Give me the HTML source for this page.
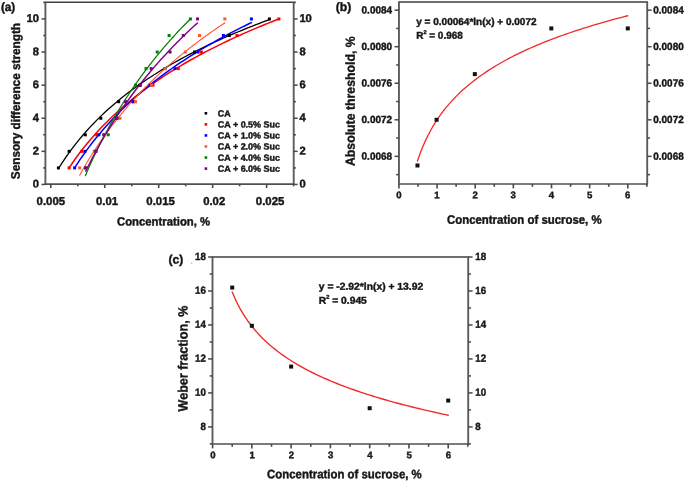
<!DOCTYPE html>
<html><head><meta charset="utf-8"><title>Figure</title>
<style>
html,body{margin:0;padding:0;background:#fff;}
body{width:685px;height:481px;overflow:hidden;font-family:"Liberation Sans",sans-serif;}
svg{display:block;filter:blur(0.6px);}
svg text{font-family:"Liberation Sans",sans-serif;font-weight:bold;fill:#161616;stroke:#161616;stroke-width:0.42px;}
</style></head><body>
<svg width="685" height="481" viewBox="0 0 685 481">
<rect width="685" height="481" fill="#ffffff"/>
<g id="pa">
<path d="M58.40,168.73 L61.92,163.16 L65.43,157.88 L68.95,152.87 L72.47,148.10 L75.98,143.55 L79.50,139.19 L83.02,135.01 L86.53,131.00 L90.05,127.15 L93.57,123.44 L97.08,119.86 L100.60,116.40 L104.12,113.06 L107.63,109.83 L111.15,106.70 L114.67,103.66 L118.18,100.71 L121.70,97.85 L125.22,95.07 L128.73,92.36 L132.25,89.72 L135.77,87.15 L139.28,84.65 L142.80,82.20 L146.32,79.82 L149.83,77.48 L153.35,75.21 L156.87,72.98 L160.38,70.80 L163.90,68.67 L167.42,66.58 L170.93,64.54 L174.45,62.53 L177.97,60.57 L181.48,58.64 L185.00,56.75 L188.52,54.89 L192.03,53.07 L195.55,51.28 L199.07,49.52 L202.58,47.80 L206.10,46.10 L209.62,44.43 L213.13,42.78 L216.65,41.17 L220.17,39.58 L223.68,38.01 L227.20,36.47 L230.72,34.95 L234.23,33.46 L237.75,31.98 L241.27,30.53 L244.78,29.10 L248.30,27.69 L251.82,26.30 L255.33,24.92 L258.85,23.57 L262.37,22.23 L265.88,20.91 L269.40,19.61" fill="none" stroke="#000000" stroke-width="1.3" stroke-linejoin="round" stroke-linecap="round"/>
<path d="M69.10,167.90 L72.60,162.73 L76.09,157.80 L79.59,153.07 L83.09,148.55 L86.58,144.20 L90.08,140.02 L93.58,135.99 L97.07,132.11 L100.57,128.36 L104.07,124.73 L107.56,121.22 L111.06,117.82 L114.56,114.52 L118.05,111.32 L121.55,108.21 L125.05,105.19 L128.54,102.24 L132.04,99.38 L135.54,96.58 L139.03,93.86 L142.53,91.20 L146.03,88.61 L149.52,86.08 L153.02,83.60 L156.52,81.18 L160.01,78.81 L163.51,76.49 L167.01,74.22 L170.50,71.99 L174.00,69.81 L177.50,67.68 L180.99,65.58 L184.49,63.52 L187.99,61.50 L191.48,59.52 L194.98,57.57 L198.48,55.66 L201.97,53.78 L205.47,51.93 L208.97,50.11 L212.46,48.33 L215.96,46.57 L219.46,44.83 L222.95,43.13 L226.45,41.45 L229.95,39.80 L233.44,38.17 L236.94,36.57 L240.44,34.98 L243.93,33.43 L247.43,31.89 L250.93,30.37 L254.42,28.88 L257.92,27.40 L261.42,25.95 L264.91,24.51 L268.41,23.10 L271.91,21.70 L275.40,20.31 L278.90,18.95" fill="none" stroke="#ff0000" stroke-width="1.5" stroke-linejoin="round" stroke-linecap="round"/>
<path d="M74.60,167.90 L77.55,163.34 L80.49,158.95 L83.44,154.71 L86.39,150.61 L89.33,146.64 L92.28,142.80 L95.23,139.07 L98.17,135.45 L101.12,131.94 L104.07,128.53 L107.01,125.21 L109.96,121.97 L112.91,118.82 L115.85,115.75 L118.80,112.75 L121.75,109.83 L124.69,106.97 L127.64,104.18 L130.59,101.45 L133.53,98.78 L136.48,96.16 L139.43,93.61 L142.37,91.10 L145.32,88.64 L148.27,86.24 L151.21,83.87 L154.16,81.56 L157.11,79.28 L160.05,77.05 L163.00,74.86 L165.95,72.71 L168.89,70.59 L171.84,68.51 L174.79,66.46 L177.73,64.45 L180.68,62.47 L183.63,60.52 L186.57,58.60 L189.52,56.72 L192.47,54.86 L195.41,53.02 L198.36,51.22 L201.31,49.44 L204.25,47.69 L207.20,45.96 L210.15,44.25 L213.09,42.57 L216.04,40.91 L218.99,39.28 L221.93,37.66 L224.88,36.07 L227.83,34.50 L230.77,32.94 L233.72,31.41 L236.67,29.90 L239.61,28.40 L242.56,26.92 L245.51,25.46 L248.45,24.02 L251.40,22.59" fill="none" stroke="#0000ff" stroke-width="1.5" stroke-linejoin="round" stroke-linecap="round"/>
<path d="M79.70,175.18 L82.12,170.85 L84.54,166.65 L86.95,162.55 L89.37,158.57 L91.79,154.69 L94.21,150.90 L96.63,147.21 L99.05,143.61 L101.47,140.09 L103.88,136.65 L106.30,133.29 L108.72,130.00 L111.14,126.79 L113.56,123.64 L115.98,120.55 L118.39,117.53 L120.81,114.56 L123.23,111.66 L125.65,108.81 L128.07,106.01 L130.49,103.26 L132.90,100.56 L135.32,97.91 L137.74,95.31 L140.16,92.75 L142.58,90.23 L145.00,87.75 L147.41,85.32 L149.83,82.92 L152.25,80.56 L154.67,78.24 L157.09,75.95 L159.51,73.69 L161.92,71.47 L164.34,69.29 L166.76,67.13 L169.18,65.00 L171.60,62.91 L174.02,60.84 L176.43,58.80 L178.85,56.79 L181.27,54.80 L183.69,52.84 L186.11,50.91 L188.53,49.00 L190.94,47.11 L193.36,45.25 L195.78,43.41 L198.20,41.59 L200.62,39.79 L203.04,38.02 L205.45,36.26 L207.87,34.53 L210.29,32.82 L212.71,31.12 L215.13,29.45 L217.55,27.79 L219.96,26.15 L222.38,24.53 L224.80,22.92" fill="none" stroke="#ff5533" stroke-width="1.1" stroke-linejoin="round" stroke-linecap="round"/>
<path d="M85.40,175.68 L87.15,171.59 L88.90,167.60 L90.65,163.68 L92.40,159.85 L94.15,156.09 L95.90,152.41 L97.65,148.79 L99.40,145.25 L101.15,141.77 L102.90,138.36 L104.65,135.01 L106.40,131.71 L108.15,128.48 L109.90,125.30 L111.65,122.17 L113.40,119.10 L115.15,116.08 L116.90,113.11 L118.65,110.18 L120.40,107.30 L122.15,104.47 L123.90,101.68 L125.65,98.93 L127.40,96.22 L129.15,93.55 L130.90,90.92 L132.65,88.33 L134.40,85.78 L136.15,83.26 L137.90,80.77 L139.65,78.33 L141.40,75.91 L143.15,73.52 L144.90,71.17 L146.65,68.85 L148.40,66.56 L150.15,64.29 L151.90,62.06 L153.65,59.85 L155.40,57.67 L157.15,55.52 L158.90,53.39 L160.65,51.29 L162.40,49.21 L164.15,47.16 L165.90,45.13 L167.65,43.12 L169.40,41.14 L171.15,39.18 L172.90,37.24 L174.65,35.32 L176.40,33.42 L178.15,31.55 L179.90,29.69 L181.65,27.85 L183.40,26.04 L185.15,24.24 L186.90,22.46 L188.65,20.69 L190.40,18.95" fill="none" stroke="#008000" stroke-width="1.25" stroke-linejoin="round" stroke-linecap="round"/>
<path d="M85.70,171.21 L87.56,167.43 L89.43,163.73 L91.29,160.10 L93.15,156.55 L95.02,153.06 L96.88,149.64 L98.74,146.28 L100.61,142.98 L102.47,139.74 L104.33,136.55 L106.20,133.42 L108.06,130.35 L109.92,127.32 L111.79,124.35 L113.65,121.42 L115.51,118.54 L117.38,115.70 L119.24,112.91 L121.10,110.16 L122.97,107.45 L124.83,104.78 L126.69,102.15 L128.56,99.56 L130.42,97.00 L132.28,94.48 L134.15,91.99 L136.01,89.54 L137.87,87.11 L139.74,84.72 L141.60,82.37 L143.46,80.04 L145.33,77.74 L147.19,75.47 L149.05,73.23 L150.92,71.01 L152.78,68.82 L154.64,66.66 L156.51,64.52 L158.37,62.41 L160.23,60.32 L162.10,58.26 L163.96,56.22 L165.82,54.20 L167.69,52.20 L169.55,50.23 L171.41,48.27 L173.28,46.34 L175.14,44.43 L177.00,42.54 L178.87,40.66 L180.73,38.81 L182.59,36.97 L184.46,35.16 L186.32,33.36 L188.18,31.58 L190.05,29.81 L191.91,28.07 L193.77,26.33 L195.64,24.62 L197.50,22.92" fill="none" stroke="#800080" stroke-width="1.4" stroke-linejoin="round" stroke-linecap="round"/>
<rect x="56.90" y="166.40" width="3.0" height="3.0" fill="#000000"/>
<rect x="67.60" y="149.85" width="3.0" height="3.0" fill="#000000"/>
<rect x="83.80" y="133.30" width="3.0" height="3.0" fill="#000000"/>
<rect x="99.30" y="116.75" width="3.0" height="3.0" fill="#000000"/>
<rect x="117.20" y="100.20" width="3.0" height="3.0" fill="#000000"/>
<rect x="138.50" y="83.65" width="3.0" height="3.0" fill="#000000"/>
<rect x="163.40" y="67.10" width="3.0" height="3.0" fill="#000000"/>
<rect x="193.00" y="50.55" width="3.0" height="3.0" fill="#000000"/>
<rect x="227.80" y="34.00" width="3.0" height="3.0" fill="#000000"/>
<rect x="267.90" y="17.45" width="3.0" height="3.0" fill="#000000"/>
<rect x="67.60" y="166.40" width="3.0" height="3.0" fill="#ff0000"/>
<rect x="80.20" y="149.85" width="3.0" height="3.0" fill="#ff0000"/>
<rect x="95.20" y="133.30" width="3.0" height="3.0" fill="#ff0000"/>
<rect x="115.00" y="116.75" width="3.0" height="3.0" fill="#ff0000"/>
<rect x="132.00" y="100.20" width="3.0" height="3.0" fill="#ff0000"/>
<rect x="151.50" y="83.65" width="3.0" height="3.0" fill="#ff0000"/>
<rect x="176.80" y="67.10" width="3.0" height="3.0" fill="#ff0000"/>
<rect x="199.90" y="50.55" width="3.0" height="3.0" fill="#ff0000"/>
<rect x="235.50" y="34.00" width="3.0" height="3.0" fill="#ff0000"/>
<rect x="277.40" y="17.45" width="3.0" height="3.0" fill="#ff0000"/>
<rect x="73.10" y="166.40" width="3.0" height="3.0" fill="#0000ff"/>
<rect x="83.40" y="149.85" width="3.0" height="3.0" fill="#0000ff"/>
<rect x="97.40" y="133.30" width="3.0" height="3.0" fill="#0000ff"/>
<rect x="115.50" y="116.75" width="3.0" height="3.0" fill="#0000ff"/>
<rect x="131.50" y="100.20" width="3.0" height="3.0" fill="#0000ff"/>
<rect x="148.60" y="83.65" width="3.0" height="3.0" fill="#0000ff"/>
<rect x="173.50" y="67.10" width="3.0" height="3.0" fill="#0000ff"/>
<rect x="196.60" y="50.55" width="3.0" height="3.0" fill="#0000ff"/>
<rect x="221.90" y="34.00" width="3.0" height="3.0" fill="#0000ff"/>
<rect x="249.90" y="17.45" width="3.0" height="3.0" fill="#0000ff"/>
<rect x="78.20" y="166.40" width="3.0" height="3.0" fill="#ff5533"/>
<rect x="92.80" y="149.85" width="3.0" height="3.0" fill="#ff5533"/>
<rect x="102.50" y="133.30" width="3.0" height="3.0" fill="#ff5533"/>
<rect x="118.50" y="116.75" width="3.0" height="3.0" fill="#ff5533"/>
<rect x="134.00" y="100.20" width="3.0" height="3.0" fill="#ff5533"/>
<rect x="150.00" y="83.65" width="3.0" height="3.0" fill="#ff5533"/>
<rect x="163.30" y="67.10" width="3.0" height="3.0" fill="#ff5533"/>
<rect x="183.80" y="50.55" width="3.0" height="3.0" fill="#ff5533"/>
<rect x="198.00" y="34.00" width="3.0" height="3.0" fill="#ff5533"/>
<rect x="223.30" y="17.45" width="3.0" height="3.0" fill="#ff5533"/>
<rect x="83.90" y="166.40" width="3.0" height="3.0" fill="#008000"/>
<rect x="94.30" y="149.85" width="3.0" height="3.0" fill="#008000"/>
<rect x="106.70" y="133.30" width="3.0" height="3.0" fill="#008000"/>
<rect x="115.30" y="116.75" width="3.0" height="3.0" fill="#008000"/>
<rect x="124.30" y="100.20" width="3.0" height="3.0" fill="#008000"/>
<rect x="134.10" y="83.65" width="3.0" height="3.0" fill="#008000"/>
<rect x="144.50" y="67.10" width="3.0" height="3.0" fill="#008000"/>
<rect x="155.70" y="50.55" width="3.0" height="3.0" fill="#008000"/>
<rect x="167.60" y="34.00" width="3.0" height="3.0" fill="#008000"/>
<rect x="188.90" y="17.45" width="3.0" height="3.0" fill="#008000"/>
<rect x="84.20" y="166.40" width="3.0" height="3.0" fill="#800080"/>
<rect x="94.40" y="149.85" width="3.0" height="3.0" fill="#800080"/>
<rect x="102.30" y="133.30" width="3.0" height="3.0" fill="#800080"/>
<rect x="115.10" y="116.75" width="3.0" height="3.0" fill="#800080"/>
<rect x="124.20" y="100.20" width="3.0" height="3.0" fill="#800080"/>
<rect x="138.80" y="83.65" width="3.0" height="3.0" fill="#800080"/>
<rect x="149.70" y="67.10" width="3.0" height="3.0" fill="#800080"/>
<rect x="168.60" y="50.55" width="3.0" height="3.0" fill="#800080"/>
<rect x="181.80" y="34.00" width="3.0" height="3.0" fill="#800080"/>
<rect x="196.00" y="17.45" width="3.0" height="3.0" fill="#800080"/>
<line x1="44.60" y1="2.30" x2="294.50" y2="2.30" stroke="#3e3e3e" stroke-width="1.6"/>
<line x1="44.60" y1="184.10" x2="294.50" y2="184.10" stroke="#505050" stroke-width="1.6"/>
<line x1="45.40" y1="2.30" x2="45.40" y2="184.10" stroke="#5c5c5c" stroke-width="1.9"/>
<line x1="293.70" y1="2.30" x2="293.70" y2="184.10" stroke="#5c5c5c" stroke-width="1.9"/>
<line x1="41.50" y1="184.45" x2="45.40" y2="184.45" stroke="#484848" stroke-width="1.5"/>
<line x1="293.70" y1="184.45" x2="297.60" y2="184.45" stroke="#484848" stroke-width="1.5"/>
<text x="39.00" y="187.60" font-size="11.2" text-anchor="end" transform="rotate(0.03 39.00 187.60)" textLength="6.23" lengthAdjust="spacingAndGlyphs">0</text>
<text x="299.40" y="187.55" font-size="11.2" text-anchor="start" transform="rotate(0.03 299.40 187.55)" textLength="6.23" lengthAdjust="spacingAndGlyphs">0</text>
<line x1="43.20" y1="167.90" x2="45.40" y2="167.90" stroke="#484848" stroke-width="1.5"/>
<line x1="293.70" y1="167.90" x2="295.90" y2="167.90" stroke="#484848" stroke-width="1.5"/>
<line x1="41.50" y1="151.35" x2="45.40" y2="151.35" stroke="#484848" stroke-width="1.5"/>
<line x1="293.70" y1="151.35" x2="297.60" y2="151.35" stroke="#484848" stroke-width="1.5"/>
<text x="39.00" y="154.50" font-size="11.2" text-anchor="end" transform="rotate(0.03 39.00 154.50)" textLength="6.23" lengthAdjust="spacingAndGlyphs">2</text>
<text x="299.40" y="154.45" font-size="11.2" text-anchor="start" transform="rotate(0.03 299.40 154.45)" textLength="6.23" lengthAdjust="spacingAndGlyphs">2</text>
<line x1="43.20" y1="134.80" x2="45.40" y2="134.80" stroke="#484848" stroke-width="1.5"/>
<line x1="293.70" y1="134.80" x2="295.90" y2="134.80" stroke="#484848" stroke-width="1.5"/>
<line x1="41.50" y1="118.25" x2="45.40" y2="118.25" stroke="#484848" stroke-width="1.5"/>
<line x1="293.70" y1="118.25" x2="297.60" y2="118.25" stroke="#484848" stroke-width="1.5"/>
<text x="39.00" y="121.40" font-size="11.2" text-anchor="end" transform="rotate(0.03 39.00 121.40)" textLength="6.23" lengthAdjust="spacingAndGlyphs">4</text>
<text x="299.40" y="121.35" font-size="11.2" text-anchor="start" transform="rotate(0.03 299.40 121.35)" textLength="6.23" lengthAdjust="spacingAndGlyphs">4</text>
<line x1="43.20" y1="101.70" x2="45.40" y2="101.70" stroke="#484848" stroke-width="1.5"/>
<line x1="293.70" y1="101.70" x2="295.90" y2="101.70" stroke="#484848" stroke-width="1.5"/>
<line x1="41.50" y1="85.15" x2="45.40" y2="85.15" stroke="#484848" stroke-width="1.5"/>
<line x1="293.70" y1="85.15" x2="297.60" y2="85.15" stroke="#484848" stroke-width="1.5"/>
<text x="39.00" y="88.30" font-size="11.2" text-anchor="end" transform="rotate(0.03 39.00 88.30)" textLength="6.23" lengthAdjust="spacingAndGlyphs">6</text>
<text x="299.40" y="88.25" font-size="11.2" text-anchor="start" transform="rotate(0.03 299.40 88.25)" textLength="6.23" lengthAdjust="spacingAndGlyphs">6</text>
<line x1="43.20" y1="68.60" x2="45.40" y2="68.60" stroke="#484848" stroke-width="1.5"/>
<line x1="293.70" y1="68.60" x2="295.90" y2="68.60" stroke="#484848" stroke-width="1.5"/>
<line x1="41.50" y1="52.05" x2="45.40" y2="52.05" stroke="#484848" stroke-width="1.5"/>
<line x1="293.70" y1="52.05" x2="297.60" y2="52.05" stroke="#484848" stroke-width="1.5"/>
<text x="39.00" y="55.20" font-size="11.2" text-anchor="end" transform="rotate(0.03 39.00 55.20)" textLength="6.23" lengthAdjust="spacingAndGlyphs">8</text>
<text x="299.40" y="55.15" font-size="11.2" text-anchor="start" transform="rotate(0.03 299.40 55.15)" textLength="6.23" lengthAdjust="spacingAndGlyphs">8</text>
<line x1="43.20" y1="35.50" x2="45.40" y2="35.50" stroke="#484848" stroke-width="1.5"/>
<line x1="293.70" y1="35.50" x2="295.90" y2="35.50" stroke="#484848" stroke-width="1.5"/>
<line x1="41.50" y1="18.95" x2="45.40" y2="18.95" stroke="#484848" stroke-width="1.5"/>
<line x1="293.70" y1="18.95" x2="297.60" y2="18.95" stroke="#484848" stroke-width="1.5"/>
<text x="39.00" y="22.10" font-size="11.2" text-anchor="end" transform="rotate(0.03 39.00 22.10)" textLength="12.46" lengthAdjust="spacingAndGlyphs">10</text>
<text x="299.40" y="22.05" font-size="11.2" text-anchor="start" transform="rotate(0.03 299.40 22.05)" textLength="12.46" lengthAdjust="spacingAndGlyphs">10</text>
<line x1="43.20" y1="2.40" x2="45.40" y2="2.40" stroke="#484848" stroke-width="1.5"/>
<line x1="293.70" y1="2.40" x2="295.90" y2="2.40" stroke="#484848" stroke-width="1.5"/>
<line x1="50.80" y1="184.10" x2="50.80" y2="188.00" stroke="#484848" stroke-width="1.6"/>
<line x1="77.77" y1="184.10" x2="77.77" y2="186.30" stroke="#484848" stroke-width="1.6"/>
<line x1="104.75" y1="184.10" x2="104.75" y2="188.00" stroke="#484848" stroke-width="1.6"/>
<line x1="131.73" y1="184.10" x2="131.73" y2="186.30" stroke="#484848" stroke-width="1.6"/>
<line x1="158.70" y1="184.10" x2="158.70" y2="188.00" stroke="#484848" stroke-width="1.6"/>
<line x1="185.68" y1="184.10" x2="185.68" y2="186.30" stroke="#484848" stroke-width="1.6"/>
<line x1="212.65" y1="184.10" x2="212.65" y2="188.00" stroke="#484848" stroke-width="1.6"/>
<line x1="239.63" y1="184.10" x2="239.63" y2="186.30" stroke="#484848" stroke-width="1.6"/>
<line x1="266.60" y1="184.10" x2="266.60" y2="188.00" stroke="#484848" stroke-width="1.6"/>
<line x1="293.57" y1="184.10" x2="293.57" y2="186.30" stroke="#484848" stroke-width="1.6"/>
<text x="50.90" y="204.90" font-size="11.5" text-anchor="middle" transform="rotate(0.03 50.90 204.90)" textLength="28.60" lengthAdjust="spacingAndGlyphs">0.005</text>
<text x="107.00" y="204.90" font-size="11.5" text-anchor="middle" transform="rotate(0.03 107.00 204.90)" textLength="22.00" lengthAdjust="spacingAndGlyphs">0.01</text>
<text x="160.60" y="204.90" font-size="11.5" text-anchor="middle" transform="rotate(0.03 160.60 204.90)" textLength="28.60" lengthAdjust="spacingAndGlyphs">0.015</text>
<text x="214.20" y="204.90" font-size="11.5" text-anchor="middle" transform="rotate(0.03 214.20 204.90)" textLength="22.00" lengthAdjust="spacingAndGlyphs">0.02</text>
<text x="270.10" y="204.90" font-size="11.5" text-anchor="middle" transform="rotate(0.03 270.10 204.90)" textLength="28.60" lengthAdjust="spacingAndGlyphs">0.025</text>
<text x="163.55" y="225.50" font-size="11.9" text-anchor="middle" transform="rotate(0.03 163.55 225.50)" textLength="93.00" lengthAdjust="spacingAndGlyphs">Concentration, %</text>
<text x="19.90" y="101.10" font-size="12.4" text-anchor="middle" transform="rotate(-89.97 19.90 101.10)" textLength="156.20" lengthAdjust="spacingAndGlyphs">Sensory difference strength</text>
<text x="0.90" y="11.10" font-size="12" text-anchor="start" transform="rotate(0.03 0.90 11.10)" textLength="14.40" lengthAdjust="spacingAndGlyphs">(a)</text>
<rect x="204.60" y="112.00" width="2.6" height="2.6" fill="#000000"/>
<text x="217.80" y="116.40" font-size="8.9" text-anchor="start" transform="rotate(0.03 217.80 116.40)" textLength="12.80" lengthAdjust="spacingAndGlyphs">CA</text>
<rect x="204.60" y="123.06" width="2.6" height="2.6" fill="#ff0000"/>
<text x="217.80" y="127.46" font-size="8.9" text-anchor="start" transform="rotate(0.03 217.80 127.46)" textLength="62.20" lengthAdjust="spacingAndGlyphs">CA + 0.5% Suc</text>
<rect x="204.60" y="134.12" width="2.6" height="2.6" fill="#0000ff"/>
<text x="217.80" y="138.52" font-size="8.9" text-anchor="start" transform="rotate(0.03 217.80 138.52)" textLength="62.20" lengthAdjust="spacingAndGlyphs">CA + 1.0% Suc</text>
<rect x="204.60" y="145.18" width="2.6" height="2.6" fill="#ff5533"/>
<text x="217.80" y="149.58" font-size="8.9" text-anchor="start" transform="rotate(0.03 217.80 149.58)" textLength="62.20" lengthAdjust="spacingAndGlyphs">CA + 2.0% Suc</text>
<rect x="204.60" y="156.24" width="2.6" height="2.6" fill="#008000"/>
<text x="217.80" y="160.64" font-size="8.9" text-anchor="start" transform="rotate(0.03 217.80 160.64)" textLength="62.20" lengthAdjust="spacingAndGlyphs">CA + 4.0% Suc</text>
<rect x="204.60" y="167.30" width="2.6" height="2.6" fill="#800080"/>
<text x="217.80" y="171.70" font-size="8.9" text-anchor="start" transform="rotate(0.03 217.80 171.70)" textLength="62.20" lengthAdjust="spacingAndGlyphs">CA + 6.0% Suc</text>
</g>
<g id="pb">
<path d="M417.47,161.07 L420.10,153.53 L422.73,146.86 L425.36,140.87 L427.99,135.44 L430.62,130.47 L433.24,125.89 L435.87,121.64 L438.50,117.68 L441.13,113.97 L443.76,110.48 L446.39,107.19 L449.02,104.07 L451.65,101.12 L454.28,98.30 L456.91,95.61 L459.53,93.05 L462.16,90.58 L464.79,88.22 L467.42,85.95 L470.05,83.77 L472.68,81.66 L475.31,79.63 L477.94,77.67 L480.57,75.77 L483.20,73.93 L485.82,72.14 L488.45,70.41 L491.08,68.73 L493.71,67.09 L496.34,65.50 L498.97,63.95 L501.60,62.45 L504.23,60.98 L506.86,59.54 L509.49,58.14 L512.11,56.77 L514.74,55.44 L517.37,54.13 L520.00,52.85 L522.63,51.60 L525.26,50.38 L527.89,49.18 L530.52,48.01 L533.15,46.85 L535.78,45.72 L538.40,44.62 L541.03,43.53 L543.66,42.46 L546.29,41.41 L548.92,40.38 L551.55,39.37 L554.18,38.37 L556.81,37.40 L559.44,36.43 L562.07,35.49 L564.69,34.56 L567.32,33.64 L569.95,32.74 L572.58,31.85 L575.21,30.97 L577.84,30.11 L580.47,29.26 L583.10,28.42 L585.73,27.59 L588.36,26.78 L590.98,25.97 L593.61,25.18 L596.24,24.40 L598.87,23.63 L601.50,22.87 L604.13,22.11 L606.76,21.37 L609.39,20.64 L612.02,19.91 L614.64,19.20 L617.27,18.49 L619.90,17.79 L622.53,17.10 L625.16,16.42 L627.79,15.75" fill="none" stroke="#f22a2a" stroke-width="1.3" stroke-linejoin="round" stroke-linecap="round"/>
<rect x="415.47" y="163.49" width="4.0" height="4.0" fill="#111"/>
<rect x="434.59" y="117.80" width="4.0" height="4.0" fill="#111"/>
<rect x="472.83" y="72.11" width="4.0" height="4.0" fill="#111"/>
<rect x="549.31" y="26.42" width="4.0" height="4.0" fill="#111"/>
<rect x="625.79" y="26.42" width="4.0" height="4.0" fill="#111"/>
<line x1="398.15" y1="2.00" x2="648.00" y2="2.00" stroke="#3e3e3e" stroke-width="1.6"/>
<line x1="398.15" y1="184.00" x2="648.00" y2="184.00" stroke="#505050" stroke-width="1.6"/>
<line x1="398.95" y1="2.00" x2="398.95" y2="184.00" stroke="#5c5c5c" stroke-width="1.9"/>
<line x1="647.20" y1="2.00" x2="647.20" y2="184.00" stroke="#5c5c5c" stroke-width="1.9"/>
<line x1="396.15" y1="174.62" x2="398.95" y2="174.62" stroke="#484848" stroke-width="1.5"/>
<line x1="647.20" y1="174.62" x2="650.00" y2="174.62" stroke="#484848" stroke-width="1.5"/>
<line x1="394.55" y1="156.35" x2="398.95" y2="156.35" stroke="#484848" stroke-width="1.5"/>
<line x1="647.20" y1="156.35" x2="651.60" y2="156.35" stroke="#484848" stroke-width="1.5"/>
<text x="392.00" y="159.65" font-size="10.3" text-anchor="end" transform="rotate(0.03 392.00 159.65)" textLength="30.40" lengthAdjust="spacingAndGlyphs">0.0068</text>
<text x="653.30" y="159.65" font-size="10.3" text-anchor="start" transform="rotate(0.03 653.30 159.65)" textLength="30.40" lengthAdjust="spacingAndGlyphs">0.0068</text>
<line x1="396.15" y1="138.07" x2="398.95" y2="138.07" stroke="#484848" stroke-width="1.5"/>
<line x1="647.20" y1="138.07" x2="650.00" y2="138.07" stroke="#484848" stroke-width="1.5"/>
<line x1="394.55" y1="119.80" x2="398.95" y2="119.80" stroke="#484848" stroke-width="1.5"/>
<line x1="647.20" y1="119.80" x2="651.60" y2="119.80" stroke="#484848" stroke-width="1.5"/>
<text x="392.00" y="123.10" font-size="10.3" text-anchor="end" transform="rotate(0.03 392.00 123.10)" textLength="30.40" lengthAdjust="spacingAndGlyphs">0.0072</text>
<text x="653.30" y="123.10" font-size="10.3" text-anchor="start" transform="rotate(0.03 653.30 123.10)" textLength="30.40" lengthAdjust="spacingAndGlyphs">0.0072</text>
<line x1="396.15" y1="101.52" x2="398.95" y2="101.52" stroke="#484848" stroke-width="1.5"/>
<line x1="647.20" y1="101.52" x2="650.00" y2="101.52" stroke="#484848" stroke-width="1.5"/>
<line x1="394.55" y1="83.25" x2="398.95" y2="83.25" stroke="#484848" stroke-width="1.5"/>
<line x1="647.20" y1="83.25" x2="651.60" y2="83.25" stroke="#484848" stroke-width="1.5"/>
<text x="392.00" y="86.55" font-size="10.3" text-anchor="end" transform="rotate(0.03 392.00 86.55)" textLength="30.40" lengthAdjust="spacingAndGlyphs">0.0076</text>
<text x="653.30" y="86.55" font-size="10.3" text-anchor="start" transform="rotate(0.03 653.30 86.55)" textLength="30.40" lengthAdjust="spacingAndGlyphs">0.0076</text>
<line x1="396.15" y1="64.97" x2="398.95" y2="64.97" stroke="#484848" stroke-width="1.5"/>
<line x1="647.20" y1="64.97" x2="650.00" y2="64.97" stroke="#484848" stroke-width="1.5"/>
<line x1="394.55" y1="46.70" x2="398.95" y2="46.70" stroke="#484848" stroke-width="1.5"/>
<line x1="647.20" y1="46.70" x2="651.60" y2="46.70" stroke="#484848" stroke-width="1.5"/>
<text x="392.00" y="50.00" font-size="10.3" text-anchor="end" transform="rotate(0.03 392.00 50.00)" textLength="30.40" lengthAdjust="spacingAndGlyphs">0.0080</text>
<text x="653.30" y="50.00" font-size="10.3" text-anchor="start" transform="rotate(0.03 653.30 50.00)" textLength="30.40" lengthAdjust="spacingAndGlyphs">0.0080</text>
<line x1="396.15" y1="28.42" x2="398.95" y2="28.42" stroke="#484848" stroke-width="1.5"/>
<line x1="647.20" y1="28.42" x2="650.00" y2="28.42" stroke="#484848" stroke-width="1.5"/>
<line x1="394.55" y1="10.15" x2="398.95" y2="10.15" stroke="#484848" stroke-width="1.5"/>
<line x1="647.20" y1="10.15" x2="651.60" y2="10.15" stroke="#484848" stroke-width="1.5"/>
<text x="392.00" y="13.45" font-size="10.3" text-anchor="end" transform="rotate(0.03 392.00 13.45)" textLength="30.40" lengthAdjust="spacingAndGlyphs">0.0084</text>
<text x="653.30" y="13.45" font-size="10.3" text-anchor="start" transform="rotate(0.03 653.30 13.45)" textLength="30.40" lengthAdjust="spacingAndGlyphs">0.0084</text>
<line x1="398.90" y1="184.00" x2="398.90" y2="188.40" stroke="#484848" stroke-width="1.6"/>
<text x="398.80" y="198.20" font-size="9.6" text-anchor="middle" transform="rotate(0.03 398.80 198.20)">0</text>
<line x1="417.97" y1="184.00" x2="417.97" y2="186.80" stroke="#484848" stroke-width="1.6"/>
<line x1="437.05" y1="184.00" x2="437.05" y2="188.40" stroke="#484848" stroke-width="1.6"/>
<text x="436.95" y="198.20" font-size="9.6" text-anchor="middle" transform="rotate(0.03 436.95 198.20)">1</text>
<line x1="456.12" y1="184.00" x2="456.12" y2="186.80" stroke="#484848" stroke-width="1.6"/>
<line x1="475.20" y1="184.00" x2="475.20" y2="188.40" stroke="#484848" stroke-width="1.6"/>
<text x="475.10" y="198.20" font-size="9.6" text-anchor="middle" transform="rotate(0.03 475.10 198.20)">2</text>
<line x1="494.27" y1="184.00" x2="494.27" y2="186.80" stroke="#484848" stroke-width="1.6"/>
<line x1="513.35" y1="184.00" x2="513.35" y2="188.40" stroke="#484848" stroke-width="1.6"/>
<text x="513.25" y="198.20" font-size="9.6" text-anchor="middle" transform="rotate(0.03 513.25 198.20)">3</text>
<line x1="532.42" y1="184.00" x2="532.42" y2="186.80" stroke="#484848" stroke-width="1.6"/>
<line x1="551.50" y1="184.00" x2="551.50" y2="188.40" stroke="#484848" stroke-width="1.6"/>
<text x="551.40" y="198.20" font-size="9.6" text-anchor="middle" transform="rotate(0.03 551.40 198.20)">4</text>
<line x1="570.57" y1="184.00" x2="570.57" y2="186.80" stroke="#484848" stroke-width="1.6"/>
<line x1="589.65" y1="184.00" x2="589.65" y2="188.40" stroke="#484848" stroke-width="1.6"/>
<text x="589.55" y="198.20" font-size="9.6" text-anchor="middle" transform="rotate(0.03 589.55 198.20)">5</text>
<line x1="608.72" y1="184.00" x2="608.72" y2="186.80" stroke="#484848" stroke-width="1.6"/>
<line x1="627.80" y1="184.00" x2="627.80" y2="188.40" stroke="#484848" stroke-width="1.6"/>
<text x="627.70" y="198.20" font-size="9.6" text-anchor="middle" transform="rotate(0.03 627.70 198.20)">6</text>
<line x1="646.88" y1="184.00" x2="646.88" y2="186.80" stroke="#484848" stroke-width="1.6"/>
<text x="524.30" y="223.70" font-size="12.2" text-anchor="middle" transform="rotate(0.03 524.30 223.70)" textLength="154.60" lengthAdjust="spacingAndGlyphs">Concentration of sucrose, %</text>
<text x="354.70" y="101.15" font-size="13.1" text-anchor="middle" transform="rotate(-89.97 354.70 101.15)" textLength="129.90" lengthAdjust="spacingAndGlyphs">Absolute threshold, %</text>
<text x="335.70" y="10.90" font-size="12" text-anchor="start" transform="rotate(0.03 335.70 10.90)" textLength="15.60" lengthAdjust="spacingAndGlyphs">(b)</text>
<text x="416.20" y="24.95" font-size="10" text-anchor="start" transform="rotate(0.03 416.20 24.95)" textLength="120.40" lengthAdjust="spacingAndGlyphs">y = 0.00064*ln(x) + 0.0072</text>
<text x="416.20" y="38.80" font-size="10" text-anchor="start" transform="rotate(0.03 416.20 38.80)" textLength="46.60" lengthAdjust="spacingAndGlyphs">R<tspan font-size="5.6" dy="-4.9">2</tspan><tspan dy="4.9"> = 0.968</tspan></text>
</g>
<g id="pc">
<path d="M232.23,291.93 L234.93,298.32 L237.63,303.98 L240.33,309.07 L243.03,313.67 L245.73,317.89 L248.43,321.78 L251.13,325.38 L253.83,328.74 L256.53,331.89 L259.23,334.84 L261.93,337.64 L264.63,340.28 L267.33,342.79 L270.03,345.18 L272.73,347.46 L275.43,349.64 L278.13,351.72 L280.83,353.73 L283.53,355.65 L286.23,357.50 L288.93,359.29 L291.63,361.02 L294.33,362.68 L297.03,364.29 L299.73,365.86 L302.43,367.37 L305.13,368.84 L307.83,370.27 L310.53,371.65 L313.23,373.00 L315.93,374.32 L318.63,375.60 L321.33,376.84 L324.03,378.06 L326.73,379.25 L329.43,380.41 L332.13,381.54 L334.83,382.65 L337.53,383.73 L340.23,384.79 L342.93,385.83 L345.63,386.85 L348.33,387.85 L351.03,388.82 L353.73,389.78 L356.43,390.72 L359.13,391.64 L361.83,392.55 L364.53,393.44 L367.23,394.31 L369.93,395.17 L372.63,396.02 L375.33,396.85 L378.02,397.66 L380.72,398.47 L383.42,399.26 L386.12,400.03 L388.82,400.80 L391.52,401.55 L394.22,402.30 L396.92,403.03 L399.62,403.75 L402.32,404.46 L405.02,405.16 L407.72,405.85 L410.42,406.54 L413.12,407.21 L415.82,407.87 L418.52,408.53 L421.22,409.17 L423.92,409.81 L426.62,410.44 L429.32,411.06 L432.02,411.68 L434.72,412.28 L437.42,412.88 L440.12,413.47 L442.82,414.06 L445.52,414.64 L448.22,415.21" fill="none" stroke="#f22a2a" stroke-width="1.4" stroke-linejoin="round" stroke-linecap="round"/>
<rect x="230.23" y="285.58" width="4.0" height="4.0" fill="#111"/>
<rect x="249.87" y="323.81" width="4.0" height="4.0" fill="#111"/>
<rect x="289.14" y="364.59" width="4.0" height="4.0" fill="#111"/>
<rect x="367.68" y="406.21" width="4.0" height="4.0" fill="#111"/>
<rect x="446.22" y="398.57" width="4.0" height="4.0" fill="#111"/>
<line x1="211.70" y1="257.00" x2="469.00" y2="257.00" stroke="#3e3e3e" stroke-width="1.6"/>
<line x1="211.70" y1="444.00" x2="469.00" y2="444.00" stroke="#505050" stroke-width="1.6"/>
<line x1="212.50" y1="257.00" x2="212.50" y2="444.00" stroke="#5c5c5c" stroke-width="1.9"/>
<line x1="468.20" y1="257.00" x2="468.20" y2="444.00" stroke="#5c5c5c" stroke-width="1.9"/>
<line x1="209.70" y1="443.89" x2="212.50" y2="443.89" stroke="#484848" stroke-width="1.5"/>
<line x1="468.20" y1="443.89" x2="471.00" y2="443.89" stroke="#484848" stroke-width="1.5"/>
<line x1="208.10" y1="426.90" x2="212.50" y2="426.90" stroke="#484848" stroke-width="1.5"/>
<line x1="468.20" y1="426.90" x2="472.60" y2="426.90" stroke="#484848" stroke-width="1.5"/>
<text x="205.80" y="429.80" font-size="10.4" text-anchor="end" transform="rotate(0.03 205.80 429.80)" textLength="5.39" lengthAdjust="spacingAndGlyphs">8</text>
<text x="475.30" y="429.80" font-size="10.4" text-anchor="start" transform="rotate(0.03 475.30 429.80)" textLength="5.39" lengthAdjust="spacingAndGlyphs">8</text>
<line x1="209.70" y1="409.91" x2="212.50" y2="409.91" stroke="#484848" stroke-width="1.5"/>
<line x1="468.20" y1="409.91" x2="471.00" y2="409.91" stroke="#484848" stroke-width="1.5"/>
<line x1="208.10" y1="392.92" x2="212.50" y2="392.92" stroke="#484848" stroke-width="1.5"/>
<line x1="468.20" y1="392.92" x2="472.60" y2="392.92" stroke="#484848" stroke-width="1.5"/>
<text x="205.80" y="395.82" font-size="10.4" text-anchor="end" transform="rotate(0.03 205.80 395.82)" textLength="10.79" lengthAdjust="spacingAndGlyphs">10</text>
<text x="475.30" y="395.82" font-size="10.4" text-anchor="start" transform="rotate(0.03 475.30 395.82)" textLength="10.79" lengthAdjust="spacingAndGlyphs">10</text>
<line x1="209.70" y1="375.93" x2="212.50" y2="375.93" stroke="#484848" stroke-width="1.5"/>
<line x1="468.20" y1="375.93" x2="471.00" y2="375.93" stroke="#484848" stroke-width="1.5"/>
<line x1="208.10" y1="358.94" x2="212.50" y2="358.94" stroke="#484848" stroke-width="1.5"/>
<line x1="468.20" y1="358.94" x2="472.60" y2="358.94" stroke="#484848" stroke-width="1.5"/>
<text x="205.80" y="361.84" font-size="10.4" text-anchor="end" transform="rotate(0.03 205.80 361.84)" textLength="10.79" lengthAdjust="spacingAndGlyphs">12</text>
<text x="475.30" y="361.84" font-size="10.4" text-anchor="start" transform="rotate(0.03 475.30 361.84)" textLength="10.79" lengthAdjust="spacingAndGlyphs">12</text>
<line x1="209.70" y1="341.95" x2="212.50" y2="341.95" stroke="#484848" stroke-width="1.5"/>
<line x1="468.20" y1="341.95" x2="471.00" y2="341.95" stroke="#484848" stroke-width="1.5"/>
<line x1="208.10" y1="324.96" x2="212.50" y2="324.96" stroke="#484848" stroke-width="1.5"/>
<line x1="468.20" y1="324.96" x2="472.60" y2="324.96" stroke="#484848" stroke-width="1.5"/>
<text x="205.80" y="327.86" font-size="10.4" text-anchor="end" transform="rotate(0.03 205.80 327.86)" textLength="10.79" lengthAdjust="spacingAndGlyphs">14</text>
<text x="475.30" y="327.86" font-size="10.4" text-anchor="start" transform="rotate(0.03 475.30 327.86)" textLength="10.79" lengthAdjust="spacingAndGlyphs">14</text>
<line x1="209.70" y1="307.97" x2="212.50" y2="307.97" stroke="#484848" stroke-width="1.5"/>
<line x1="468.20" y1="307.97" x2="471.00" y2="307.97" stroke="#484848" stroke-width="1.5"/>
<line x1="208.10" y1="290.98" x2="212.50" y2="290.98" stroke="#484848" stroke-width="1.5"/>
<line x1="468.20" y1="290.98" x2="472.60" y2="290.98" stroke="#484848" stroke-width="1.5"/>
<text x="205.80" y="293.88" font-size="10.4" text-anchor="end" transform="rotate(0.03 205.80 293.88)" textLength="10.79" lengthAdjust="spacingAndGlyphs">16</text>
<text x="475.30" y="293.88" font-size="10.4" text-anchor="start" transform="rotate(0.03 475.30 293.88)" textLength="10.79" lengthAdjust="spacingAndGlyphs">16</text>
<line x1="209.70" y1="273.99" x2="212.50" y2="273.99" stroke="#484848" stroke-width="1.5"/>
<line x1="468.20" y1="273.99" x2="471.00" y2="273.99" stroke="#484848" stroke-width="1.5"/>
<line x1="208.10" y1="257.00" x2="212.50" y2="257.00" stroke="#484848" stroke-width="1.5"/>
<line x1="468.20" y1="257.00" x2="472.60" y2="257.00" stroke="#484848" stroke-width="1.5"/>
<text x="205.80" y="259.90" font-size="10.4" text-anchor="end" transform="rotate(0.03 205.80 259.90)" textLength="10.79" lengthAdjust="spacingAndGlyphs">18</text>
<text x="475.30" y="259.90" font-size="10.4" text-anchor="start" transform="rotate(0.03 475.30 259.90)" textLength="10.79" lengthAdjust="spacingAndGlyphs">18</text>
<line x1="212.60" y1="444.00" x2="212.60" y2="448.40" stroke="#484848" stroke-width="1.6"/>
<text x="212.80" y="458.30" font-size="9.6" text-anchor="middle" transform="rotate(0.03 212.80 458.30)">0</text>
<line x1="232.23" y1="444.00" x2="232.23" y2="446.80" stroke="#484848" stroke-width="1.6"/>
<line x1="251.87" y1="444.00" x2="251.87" y2="448.40" stroke="#484848" stroke-width="1.6"/>
<text x="252.07" y="458.30" font-size="9.6" text-anchor="middle" transform="rotate(0.03 252.07 458.30)">1</text>
<line x1="271.50" y1="444.00" x2="271.50" y2="446.80" stroke="#484848" stroke-width="1.6"/>
<line x1="291.14" y1="444.00" x2="291.14" y2="448.40" stroke="#484848" stroke-width="1.6"/>
<text x="291.34" y="458.30" font-size="9.6" text-anchor="middle" transform="rotate(0.03 291.34 458.30)">2</text>
<line x1="310.77" y1="444.00" x2="310.77" y2="446.80" stroke="#484848" stroke-width="1.6"/>
<line x1="330.41" y1="444.00" x2="330.41" y2="448.40" stroke="#484848" stroke-width="1.6"/>
<text x="330.61" y="458.30" font-size="9.6" text-anchor="middle" transform="rotate(0.03 330.61 458.30)">3</text>
<line x1="350.05" y1="444.00" x2="350.05" y2="446.80" stroke="#484848" stroke-width="1.6"/>
<line x1="369.68" y1="444.00" x2="369.68" y2="448.40" stroke="#484848" stroke-width="1.6"/>
<text x="369.88" y="458.30" font-size="9.6" text-anchor="middle" transform="rotate(0.03 369.88 458.30)">4</text>
<line x1="389.31" y1="444.00" x2="389.31" y2="446.80" stroke="#484848" stroke-width="1.6"/>
<line x1="408.95" y1="444.00" x2="408.95" y2="448.40" stroke="#484848" stroke-width="1.6"/>
<text x="409.15" y="458.30" font-size="9.6" text-anchor="middle" transform="rotate(0.03 409.15 458.30)">5</text>
<line x1="428.59" y1="444.00" x2="428.59" y2="446.80" stroke="#484848" stroke-width="1.6"/>
<line x1="448.22" y1="444.00" x2="448.22" y2="448.40" stroke="#484848" stroke-width="1.6"/>
<text x="448.42" y="458.30" font-size="9.6" text-anchor="middle" transform="rotate(0.03 448.42 458.30)">6</text>
<line x1="467.86" y1="444.00" x2="467.86" y2="446.80" stroke="#484848" stroke-width="1.6"/>
<text x="344.40" y="478.20" font-size="12.2" text-anchor="middle" transform="rotate(0.03 344.40 478.20)" textLength="154.60" lengthAdjust="spacingAndGlyphs">Concentration of sucrose, %</text>
<text x="187.60" y="358.55" font-size="13.4" text-anchor="middle" transform="rotate(-89.97 187.60 358.55)" textLength="105.80" lengthAdjust="spacingAndGlyphs">Weber fraction, %</text>
<text x="168.40" y="263.50" font-size="12" text-anchor="start" transform="rotate(0.03 168.40 263.50)" textLength="14.80" lengthAdjust="spacingAndGlyphs">(c)</text>
<circle cx="191.6" cy="263.2" r="0.9" fill="#c4c4c4"/>
<text x="318.80" y="289.80" font-size="10" text-anchor="start" transform="rotate(0.03 318.80 289.80)" textLength="104.40" lengthAdjust="spacingAndGlyphs">y = -2.92*ln(x) + 13.92</text>
<text x="318.80" y="303.70" font-size="10" text-anchor="start" transform="rotate(0.03 318.80 303.70)" textLength="48.00" lengthAdjust="spacingAndGlyphs">R<tspan font-size="5.6" dy="-4.9">2</tspan><tspan dy="4.9"> = 0.945</tspan></text>
</g>
</svg>
</body></html>
